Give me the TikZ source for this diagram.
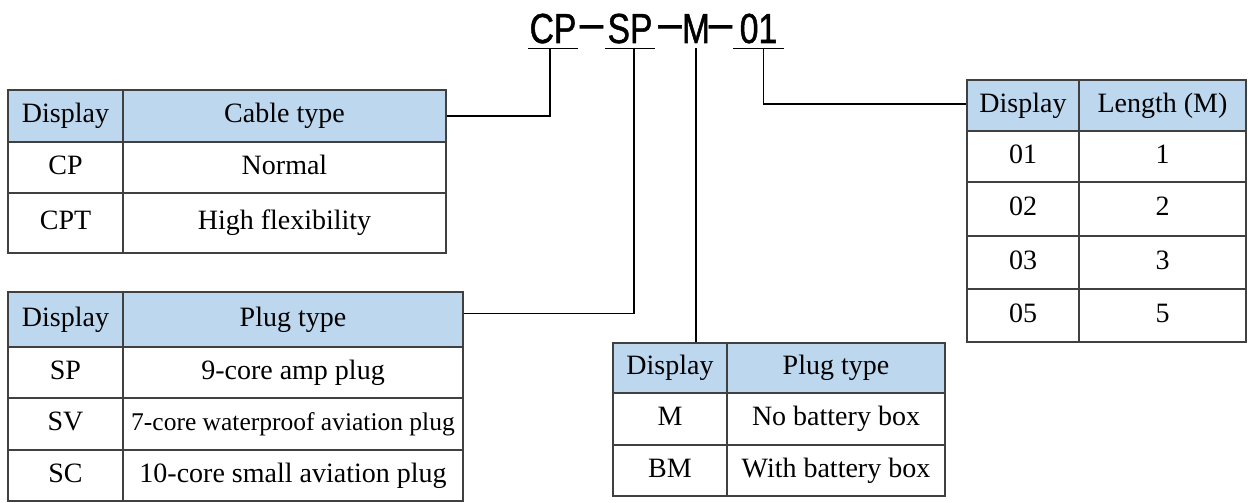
\documentclass[tikz,border=0pt]{standalone}
\usepackage{fontspec}
\usepackage{tikz}
\setmainfont{Liberation Serif}
\newfontfamily\codefont[FakeStretch=0.8,FakeBold=1.2]{Liberation Sans}
\newfontfamily\dashfont[FakeBold=1.5]{Liberation Sans}
\definecolor{HeadBlue}{HTML}{BDD7EE}
\definecolor{Frame}{HTML}{404040}

\begin{document}
\begin{tikzpicture}[x=1pt,y=-1pt,
      code/.style={font=\codefont\fontsize{42pt}{46pt}\selectfont,
        inner xsep=0pt,inner ysep=5pt,minimum width=50pt,anchor=base},
      joiner/.style={font=\dashfont\fontsize{42pt}{46pt}\selectfont,inner sep=0pt,anchor=base},
      hcell/.style={draw=Frame,fill=HeadBlue,line width=1.5pt,inner sep=0pt,
        text height=19pt,text depth=6pt,font=\fontsize{28pt}{32pt}\selectfont},
      bcell/.style={hcell,fill=white},
      link/.style={line width=1.6pt,black}]
      \path[use as bounding box,fill=white] (0,0) rectangle (1248,503);
      % model code
      \node[code] (cp) at (553,43) {CP};
      \node[joiner] (dasha) at (591.5,37.5) {\textendash};
      \node[code] (sp) at (630,43) {SP};
      \node[joiner] (dashb) at (670,37.5) {\textendash};
      \node[code] (m) at (696,43) {M};
      \node[joiner] (dashc) at (720.5,37.5) {\textendash};
      \node[code] (len) at (758.5,43) {01};
      \draw[link] (cp.south west) -- (cp.south east);
      \draw[link] (sp.south west) -- (sp.south east);
      \draw[link] (len.south west) -- (len.south east);
      % cable type
      \node[hcell,minimum width=115pt,minimum height=52pt] (cabdisp) at (65.5,116) {Display};
      \node[hcell,minimum width=323pt,minimum height=52pt] (cabtype) at (284.5,116) {Cable type};
      \node[bcell,minimum width=115pt,minimum height=51pt] (cabcp) at (65.5,167.5) {CP};
      \node[bcell,minimum width=323pt,minimum height=51pt] (cabnorm) at (284.5,167.5) {Normal};
      \node[bcell,minimum width=115pt,minimum height=60pt] (cabcpt) at (65.5,223) {CPT};
      \node[bcell,minimum width=323pt,minimum height=60pt] (cabflex) at (284.5,223) {High flexibility};
      % plug type
      \node[hcell,minimum width=115pt,minimum height=55pt] (plugdisp) at (65.5,319.5) {Display};
      \node[hcell,minimum width=340pt,minimum height=55pt] (plugtype) at (293,319.5) {Plug type};
      \node[bcell,minimum width=115pt,minimum height=51pt] (plugsp) at (65.5,372.5) {SP};
      \node[bcell,minimum width=340pt,minimum height=51pt] (plugamp) at (293,372.5) {9-core amp plug};
      \node[bcell,minimum width=115pt,minimum height=52pt] (plugsv) at (65.5,424) {SV};
      \node[bcell,minimum width=340pt,minimum height=52pt] (plugwater) at (293,424)
        {\fontsize{25.5pt}{30pt}\selectfont 7-core waterproof aviation plug};
      \node[bcell,minimum width=115pt,minimum height=51pt] (plugsc) at (65.5,475.5) {SC};
      \node[bcell,minimum width=340pt,minimum height=51pt] (plugsmall) at (293,475.5) {10-core small aviation plug};
      % battery box
      \node[hcell,minimum width=114pt,minimum height=50pt] (batdisp) at (670,368) {Display};
      \node[hcell,minimum width=218pt,minimum height=50pt] (battype) at (836,368) {Plug type};
      \node[bcell,minimum width=114pt,minimum height=52pt] (batm) at (670,419) {M};
      \node[bcell,minimum width=218pt,minimum height=52pt] (batno) at (836,419) {No battery box};
      \node[bcell,minimum width=114pt,minimum height=51pt] (batbm) at (670,470.5) {BM};
      \node[bcell,minimum width=218pt,minimum height=51pt] (batwith) at (836,470.5) {With battery box};
      % length
      \node[hcell,minimum width=112pt,minimum height=51pt] (lendisp) at (1023,105.5) {Display};
      \node[hcell,minimum width=167pt,minimum height=51pt] (lenval) at (1162.5,105.5) {Length (M)};
      \node[bcell,minimum width=112pt,minimum height=51pt] (lena) at (1023,156.5) {01};
      \node[bcell,minimum width=167pt,minimum height=51pt] (lenav) at (1162.5,156.5) {1};
      \node[bcell,minimum width=112pt,minimum height=54pt] (lenb) at (1023,209) {02};
      \node[bcell,minimum width=167pt,minimum height=54pt] (lenbv) at (1162.5,209) {2};
      \node[bcell,minimum width=112pt,minimum height=53pt] (lenc) at (1023,262.5) {03};
      \node[bcell,minimum width=167pt,minimum height=53pt] (lencv) at (1162.5,262.5) {3};
      \node[bcell,minimum width=112pt,minimum height=53pt] (lend) at (1023,315.5) {05};
      \node[bcell,minimum width=167pt,minimum height=53pt] (lendv) at (1162.5,315.5) {5};
      % connectors
      \draw[link] ([xshift=-3pt]cp.south) |- (cabtype.east);
      \draw[link] ([xshift=4pt]sp.south) |- ([yshift=6pt]plugtype.east);
      \draw[link] (m.south) -- (m.south |- batdisp.north);
      \draw[link] ([xshift=5pt]len.south) |- ([yshift=1.5pt]lendisp.west);
    \end{tikzpicture}
\end{document}
